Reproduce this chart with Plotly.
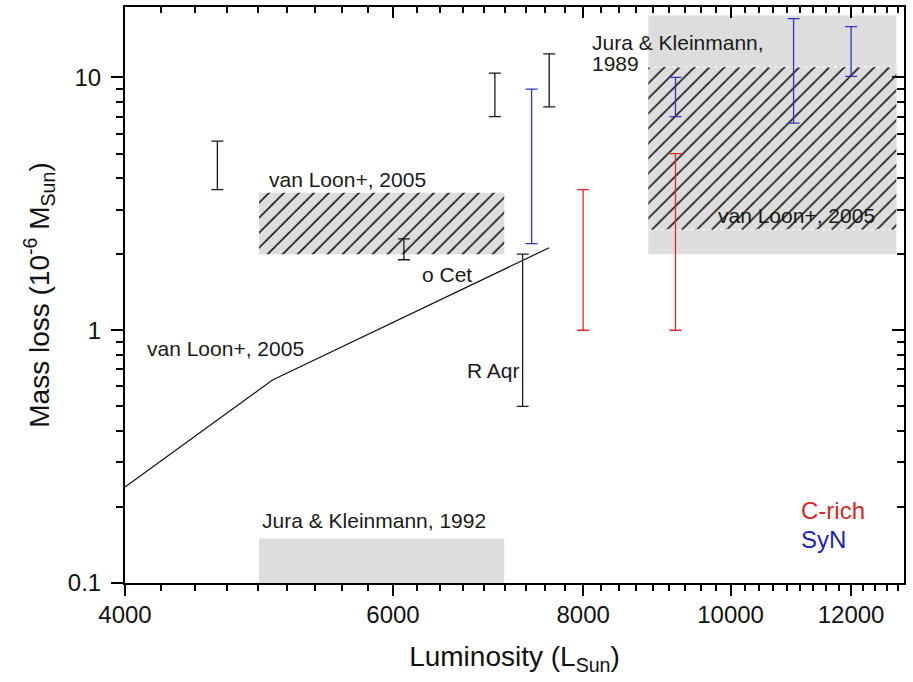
import math
import plotly.graph_objects as go

# ---------------- data ----------------
# error-bar ranges of mass loss (1e-6 Msun/yr) at given luminosity (Lsun)
black_L = [4600, 6100, 7000, 7300, 7600]
black_low = [3.6, 1.9, 7.0, 0.5, 7.65]
black_high = [5.6, 2.3, 10.4, 2.0, 12.4]

blue_L = [7400, 9200, 11000, 12000]
blue_low = [2.2, 7.0, 6.6, 10.1]
blue_high = [9.0, 10.0, 17.1, 15.9]

red_L = [8000, 9200]
red_low = [1.0, 1.0]
red_high = [3.6, 5.0]

# van Loon+ 2005 relation
vl_L = [4000, 5000, 7600]
vl_M = [0.24, 0.635, 2.12]

# regions: luminosity range, mass-loss range
vl05_left_L = [4900, 7100]
vl05_left_M = [2.0, 3.5]
jk92_L = [4900, 7100]
jk92_M = [0.1, 0.15]
jk89_L = [8830, 12850]
jk89_M = [2.0, 17.6]
vl05_right_L = [8830, 12850]
vl05_right_M = [2.5, 11.0]

x_major = [4000, 6000, 8000, 10000, 12000]
y_major = [0.1, 1, 10]

# ---------------- styling helpers ----------------
GRAY = '#dddddd'
FONT = 'Liberation Sans, Arial, Helvetica, sans-serif'

x_minor = []
for i in range(len(x_major)):
    for k in range(1, 9):
        v = x_major[i] + k * 2000 / 9
        if v < 13000:
            x_minor.append(v)
y_minor = [m * d for d in (0.1, 1) for m in range(2, 10)]


def rect_xy(Lr, Mr):
    return ([Lr[0], Lr[1], Lr[1], Lr[0], Lr[0]],
            [Mr[0], Mr[0], Mr[1], Mr[1], Mr[0]])


def box(Lr, Mr, hatch=False):
    xs, ys = rect_xy(Lr, Mr)
    kw = dict(x=xs, y=ys, mode='lines', fill='toself', fillcolor=GRAY,
              line=dict(width=0, color='rgba(0,0,0,0)'),
              showlegend=False, hoverinfo='skip')
    if hatch:
        kw['fillpattern'] = dict(shape='/', fgcolor='#111111', bgcolor=GRAY,
                                 size=10.6, solidity=0.15, fillmode='replace')
    return go.Scatter(**kw)


def ebars(L, lo, hi, color):
    mid = [math.sqrt(a * b) for a, b in zip(lo, hi)]
    return go.Scatter(
        x=L, y=mid, mode='markers',
        marker=dict(size=2, color='rgba(0,0,0,0)'),
        error_y=dict(type='data', symmetric=False,
                     array=[h - m for h, m in zip(hi, mid)],
                     arrayminus=[m - l for m, l in zip(mid, lo)],
                     color=color, thickness=1.3, width=6),
        showlegend=False, hoverinfo='skip')


fig = go.Figure()

# shaded regions
fig.add_trace(box(jk89_L, jk89_M))
fig.add_trace(box(vl05_right_L, vl05_right_M, hatch=True))
fig.add_trace(box(vl05_left_L, vl05_left_M, hatch=True))
fig.add_trace(box(jk92_L, jk92_M))

# white dotted borders of the right hatched region
for m in vl05_right_M:
    fig.add_trace(go.Scatter(x=vl05_right_L, y=[m, m], mode='lines',
                             line=dict(color='white', width=1, dash='dot'),
                             showlegend=False, hoverinfo='skip'))

# van Loon relation line
fig.add_trace(go.Scatter(x=vl_L, y=vl_M, mode='lines',
                         line=dict(color='#111111', width=1.2),
                         showlegend=False, hoverinfo='skip'))

# error bars
fig.add_trace(ebars(black_L, black_low, black_high, '#1a1a1a'))
fig.add_trace(ebars(blue_L, blue_low, blue_high, '#3434bb'))
fig.add_trace(ebars(red_L, red_low, red_high, '#e02828'))

# dummy trace for the mirrored (top / right) axes
fig.add_trace(go.Scatter(x=[], y=[], xaxis='x2', yaxis='y2', showlegend=False))

# ---------------- annotations ----------------
def lab(text, L, M, size=21, color='#1a1a1a'):
    return dict(text=text, x=math.log10(L), y=math.log10(M), xref='x', yref='y',
                xanchor='left', yanchor='middle', showarrow=False,
                font=dict(size=size, color=color, family=FONT))

annotations = [
    lab('van Loon+, 2005', 4959, 3.93),
    lab('o Cet', 6250, 1.668),
    lab('van Loon+, 2005', 4123, 0.85),
    lab('R Aqr', 6691, 0.696),
    lab('Jura &amp; Kleinmann,', 8080, 13.72),
    lab('1989', 8080, 11.37),
    lab('van Loon+, 2005', 9782, 2.856),
    lab('Jura &amp; Kleinmann, 1992', 4906, 0.176),
    lab('C-rich', 11096, 0.1944, size=24, color='#d42a2a'),
    lab('SyN', 11096, 0.148, size=24, color='#1f1fb0'),
]

xr = [math.log10(4000), math.log10(13000)]
yr = [math.log10(0.1), math.log10(19)]

common_x = dict(type='log', range=xr, tickmode='array', tickvals=x_major,
                ticktext=[str(v) for v in x_major], ticklen=11, tickwidth=2,
                tickcolor='black', showline=True, linecolor='black', linewidth=2,
                showgrid=False, zeroline=False, automargin=False)
common_y = dict(type='log', range=yr, tickmode='array', tickvals=y_major,
                ticktext=['0.1', '1', '10'], ticklen=12, tickwidth=2,
                tickcolor='black', showline=True, linecolor='black', linewidth=2,
                showgrid=False, zeroline=False, automargin=False)

fig.update_layout(
    width=913, height=682,
    margin=dict(l=125, r=9, t=7, b=99),
    plot_bgcolor='white', paper_bgcolor='white',
    showlegend=False,
    font=dict(family=FONT, color='black'),
    xaxis=dict(**common_x, ticks='outside', side='bottom',
               tickfont=dict(size=24, color='#111111'), ticklabelstandoff=-2,
               minor=dict(tickmode='array', tickvals=x_minor, ticks='outside',
                          ticklen=6, tickwidth=2, tickcolor='black', showgrid=False),
               title=dict(text='Luminosity (L<sub>Sun</sub>)',
                          font=dict(size=28, color='#111111'), standoff=20)),
    yaxis=dict(**common_y, ticks='outside', side='left',
               tickfont=dict(size=24, color='#111111'), ticklabelstandoff=5,
               minor=dict(tickmode='array', tickvals=y_minor, ticks='outside',
                          ticklen=7, tickwidth=2, tickcolor='black', showgrid=False),
               title=dict(text='Mass loss (10<sup>-6</sup> M<sub>Sun</sub>)',
                          font=dict(size=28, color='#111111'), standoff=10)),
    xaxis2=dict(**common_x, overlaying='x', side='top', anchor='y', ticks='inside',
                showticklabels=False,
                minor=dict(tickmode='array', tickvals=x_minor, ticks='inside',
                           ticklen=6, tickwidth=2, tickcolor='black', showgrid=False)),
    yaxis2=dict(**common_y, overlaying='y', side='right', anchor='x', ticks='inside',
                showticklabels=False,
                minor=dict(tickmode='array', tickvals=y_minor, ticks='inside',
                           ticklen=7, tickwidth=2, tickcolor='black', showgrid=False)),
    annotations=annotations,
)

fig.write_html('out.html', config={'displayModeBar': False},
               post_script="document.body.style.margin='0';")
